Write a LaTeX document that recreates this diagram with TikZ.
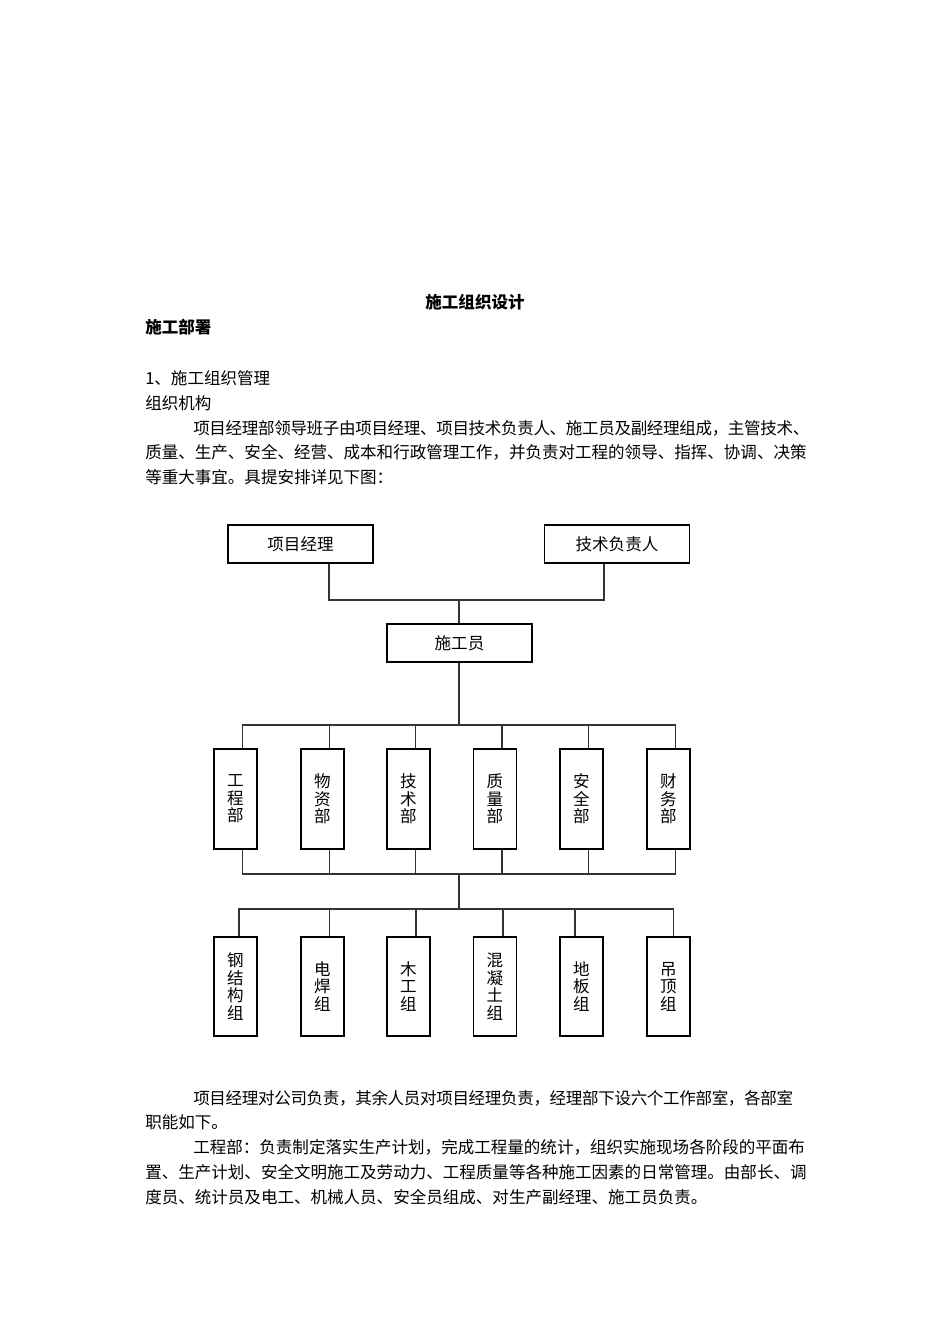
\documentclass[tikz,border=0pt]{standalone}
\usepackage{fontspec}
\newfontfamily\cjk{Noto Sans CJK SC}
\newcommand\bodysize{\fontsize{12.4pt}{13.1pt}\selectfont}

\tikzset{
  txt/.style={anchor=west, inner sep=0pt, font=\cjk\bodysize},
  topbox/.style={draw, line width=0.9pt, minimum width=108.75pt, minimum height=28.5pt, inner sep=0pt, font=\cjk\bodysize},
  deptbox/.style={draw, line width=0.9pt, minimum width=32.25pt, minimum height=75pt, inner sep=0pt, align=center, font=\cjk\bodysize},
  link/.style={line width=0.8pt, black!80}
}

\begin{document}
\begin{tikzpicture}[x=0.75pt,y=0.75pt,yscale=-1,xscale=1]
\path[use as bounding box, fill=white] (0,0) rectangle (950,1344);

% heading and opening text
\node[txt, anchor=center, font=\cjk\bodysize\bfseries] (title) at (475,302) {施工组织设计};
\node[txt, font=\cjk\bodysize\bfseries] (sect) at (145,327) {施工部署};
\node[txt] (l1) at (145,378) {1、施工组织管理};
\node[txt] (l2) at (145,403) {组织机构};
\node[txt, font=\cjk\bodysize\addfontfeature{LetterSpace=-2}] (l3) at (193,428) {项目经理部领导班子由项目经理、项目技术负责人、施工员及副经理组成，主管技术、};
\node[txt] (l4) at (145,452) {质量、生产、安全、经营、成本和行政管理工作，并负责对工程的领导、指挥、协调、决策};
\node[txt] (l5) at (145,477) {等重大事宜。具提安排详见下图：};

% top of the chart
\node[topbox] (pm) at (300.5,544) {项目经理};
\node[topbox] (tf) at (617,544) {技术负责人};
\node[topbox] (sg) at (459.5,643) {施工员};

\coordinate (topL) at (329,600);
\coordinate (topR) at (604,600);
\coordinate (topM) at (459,600);
\draw[link] (pm.south -| topL) -- (topL) -- (topR) -- (tf.south -| topR);
\draw[link] (topM) -- (sg.north -| topM);

% departments
\node[deptbox] (d1) at (235.5,799) {工\\程\\部};
\node[deptbox] (d2) at (322.5,799) {物\\资\\部};
\node[deptbox] (d3) at (408.5,799) {技\\术\\部};
\node[deptbox] (d4) at (495,799) {质\\量\\部};
\node[deptbox] (d5) at (581.5,799) {安\\全\\部};
\node[deptbox] (d6) at (668.5,799) {财\\务\\部};

\coordinate (busA) at (459,725);
\coordinate (busB) at (459,874);
\coordinate (busC) at (459,909);
\draw[link] (sg.south -| busA) -- (busA);
\draw[link] ([xshift=5.25pt]d1.north) |- (busA);
\draw[link] ([xshift=5.25pt]d2.north) |- (busA);
\draw[link] ([xshift=5.25pt]d3.north) |- (busA);
\draw[link] ([xshift=5.25pt]d4.north) |- (busA);
\draw[link] ([xshift=5.25pt]d5.north) |- (busA);
\draw[link] ([xshift=5.25pt]d6.north) |- (busA);
\draw[link] ([xshift=5.25pt]d1.south) |- (busB);
\draw[link] ([xshift=5.25pt]d2.south) |- (busB);
\draw[link] ([xshift=5.25pt]d3.south) |- (busB);
\draw[link] ([xshift=5.25pt]d4.south) |- (busB);
\draw[link] ([xshift=5.25pt]d5.south) |- (busB);
\draw[link] ([xshift=5.25pt]d6.south) |- (busB);
\draw[link] (busB) -- (busC);

% work groups
\node[deptbox, minimum height=74.25pt] (g1) at (235.5,986.5) {钢\\结\\构\\组};
\node[deptbox, minimum height=74.25pt] (g2) at (322.5,986.5) {电\\焊\\组};
\node[deptbox, minimum height=74.25pt] (g3) at (408.5,986.5) {木\\工\\组};
\node[deptbox, minimum height=74.25pt] (g4) at (495,986.5) {混\\凝\\土\\组};
\node[deptbox, minimum height=74.25pt] (g5) at (581.5,986.5) {地\\板\\组};
\node[deptbox, minimum height=74.25pt] (g6) at (668.5,986.5) {吊\\顶\\组};

\draw[link] ([xshift=2.6pt]g1.north) |- (busC);
\draw[link] ([xshift=4.9pt]g2.north) |- (busC);
\draw[link] ([xshift=5.6pt]g3.north) |- (busC);
\draw[link] ([xshift=6pt]g4.north) |- (busC);
\draw[link] ([xshift=-4.9pt]g5.north) |- (busC);
\draw[link] ([xshift=3.4pt]g6.north) |- (busC);

% closing text
\node[txt, font=\cjk\bodysize\addfontfeature{LetterSpace=-2}] (m1) at (193,1098) {项目经理对公司负责，其余人员对项目经理负责，经理部下设六个工作部室，各部室};
\node[txt] (m2) at (145,1122) {职能如下。};
\node[txt] (m3) at (193,1147) {工程部：负责制定落实生产计划，完成工程量的统计，组织实施现场各阶段的平面布};
\node[txt] (m4) at (145,1172) {置、生产计划、安全文明施工及劳动力、工程质量等各种施工因素的日常管理。由部长、调};
\node[txt] (m5) at (145,1197) {度员、统计员及电工、机械人员、安全员组成、对生产副经理、施工员负责。};

\end{tikzpicture}
\end{document}
